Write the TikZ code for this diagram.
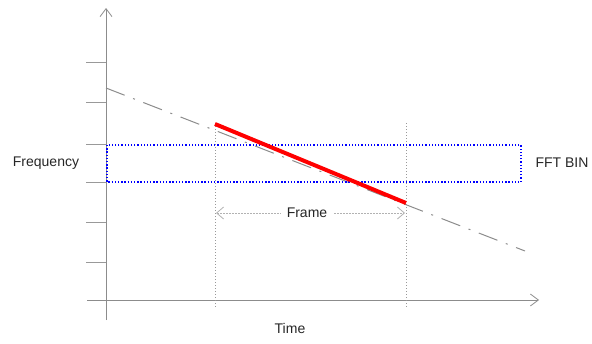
\documentclass[tikz,border=0pt]{standalone}
\usepackage{fontspec}
\setmainfont{Liberation Sans}
\usetikzlibrary{arrows.meta}
\begin{document}
\begin{tikzpicture}[x=1pt,y=-1pt,
  axis/.style={draw=black!45,line width=1pt,-{Straight Barb[length=8pt,width=12pt,line width=0.8pt]}},
  tick/.style={draw=black!40,line width=1pt},
  guide/.style={draw=black!40,line width=0.8pt,dash pattern=on 1pt off 2pt},
  trend/.style={draw=black!45,line width=1pt,dash pattern=on 20pt off 9pt on 2pt off 9pt},
  signal/.style={draw=red,line width=4pt},
  bin/.style={draw=blue,line width=1.5pt,dash pattern=on 1.3pt off 1.9pt},
  span/.style={draw=black!30,line width=1pt,dash pattern=on 1.5pt off 1.5pt,{Straight Barb[length=7pt,width=12pt,line width=0.8pt]}-{Straight Barb[length=7pt,width=12pt,line width=0.8pt]}},
  lbl/.style={font=\fontsize{14}{16}\selectfont,text=black!85,inner sep=1pt}]
\useasboundingbox (0,0) rectangle (592,343);
% axes
\coordinate (yb) at (106,320);
\coordinate (yt) at (106,8);
\coordinate (xl) at (87,300);
\coordinate (xr) at (539,300);
\draw[axis] (yb) -- (yt);
\draw[axis] (xl) -- (xr);
% ticks
\foreach \y in {62,102,144,182,222,262}{
  \draw[tick] (86,\y) -- (106,\y);
}
% frame guides
\coordinate (g1t) at (215,123);
\coordinate (g1b) at (215,308);
\coordinate (g2t) at (406,123);
\coordinate (g2b) at (406,308);
\draw[guide] (g1t) -- (g1b);
\draw[guide] (g2t) -- (g2b);
% trend line
\coordinate (ts) at (106,88);
\coordinate (te) at (525,251);
\draw[trend] (ts) -- (te);
% FFT bin box
\coordinate (bl) at (107,145);
\coordinate (br) at (521,182);
\draw[bin] (bl) rectangle (br);
% red signal
\coordinate (rs) at (215,124);
\coordinate (re) at (406,203);
\draw[signal] (rs) -- (re);
% frame span
\coordinate (fl) at (216,213);
\coordinate (fr) at (405,213);
\draw[span] (fl) -- (fr);
\node[lbl,fill=white,inner sep=6pt] (frame) at (307,213) {Frame};
% labels
\node[lbl] (freq) at (46,163) {Frequency};
\node[lbl] (fft) at (562,163) {FFT BIN};
\node[lbl] (time) at (290,328) {Time};
\end{tikzpicture}
\end{document}
